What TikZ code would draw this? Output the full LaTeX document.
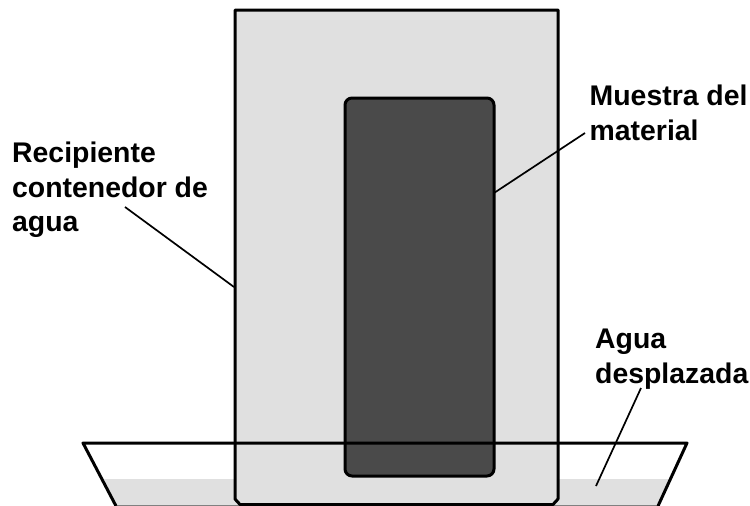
\documentclass[tikz,border=0pt]{standalone}
\usepackage{fontspec}
\setmainfont{Liberation Sans}
\definecolor{lightfill}{gray}{0.88}
\definecolor{darkfill}{gray}{0.29}
\tikzset{
  outline/.style={draw=black,line width=3pt,line join=round},
  leader/.style={draw=black,line width=1.7pt},
  lbl/.style={font=\fontsize{28.4}{34.6}\selectfont\bfseries,align=left,anchor=north west,inner sep=0pt,text=black}
}
\begin{document}
\begin{tikzpicture}[x=1pt,y=-1pt]
\useasboundingbox (0,0) rectangle (750,506);
% water
\fill[lightfill] (104,479) -- (671,479) -- (658,506) -- (116,506) -- cycle;
\draw[gray,line width=1pt] (116,505.5) -- (658,505.5);
% container
\draw[outline,fill=lightfill] (235,10) -- (558,10) -- (558,499) -- (553,504.5) -- (240,504.5) -- (235,499) -- cycle;
% sample
\draw[outline,fill=darkfill,rounded corners=7pt] (345,98) rectangle (494,476);
% tray
\draw[outline] (116,506) -- (83,443) -- (687,443) -- (658,506);
% labels
\node[lbl] (muestra) at (589.5,85) {Muestra del\\material};
\node[lbl] (recipiente) at (12,142) {Recipiente\\contenedor de\\agua};
\node[lbl] (agua) at (595,329) {Agua\\desplazada};
% leader ends
\coordinate (recEnd) at (234,287);
\coordinate (recStart) at (125,207);
\coordinate (mueEnd) at (494,193);
\coordinate (mueStart) at (585,133);
\coordinate (agEnd) at (596,486);
\coordinate (agStart) at (641,388);
\draw[leader] (recStart) -- (recEnd);
\draw[leader] (mueStart) -- (mueEnd);
\draw[leader] (agStart) -- (agEnd);
\end{tikzpicture}
\end{document}
